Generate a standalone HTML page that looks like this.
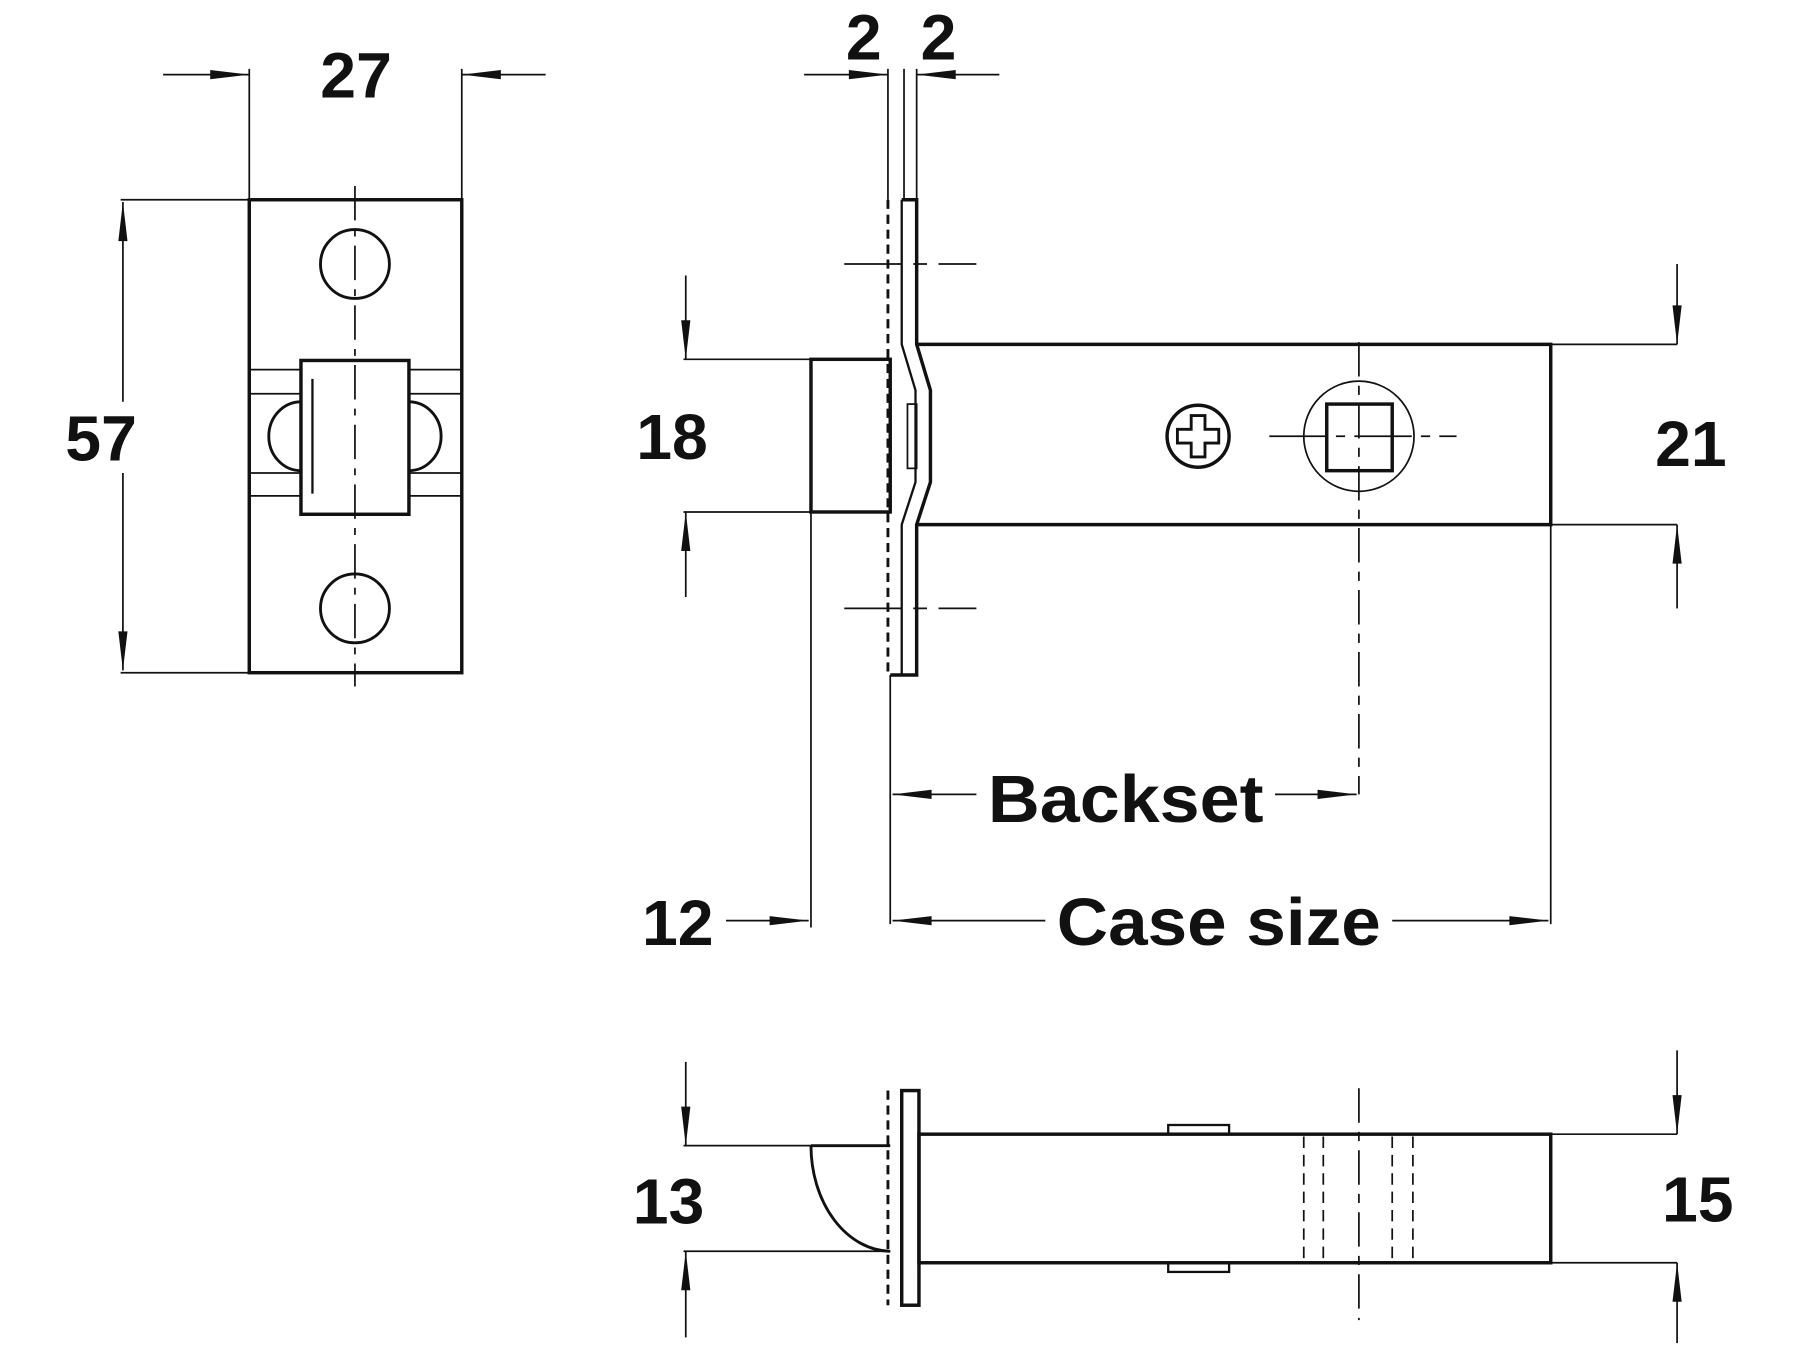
<!DOCTYPE html>
<html><head><style>html,body{margin:0;padding:0;background:#fff}svg{display:block}</style></head><body>
<svg width="1800" height="1350" viewBox="0 0 1567 1176" preserveAspectRatio="none" xmlns="http://www.w3.org/2000/svg">
<defs>
<marker id="b" viewBox="0 0 40 12" refX="40" refY="6" markerWidth="40" markerHeight="12" markerUnits="userSpaceOnUse" orient="auto-start-reverse"><path d="M6,2 L40,6 L6,10 Z" fill="#111"/></marker></defs>
<g fill="none" stroke="#111" stroke-width="1.5">
<rect x="217" y="174" width="185" height="412" stroke-width="3"/>
<circle cx="309" cy="230" r="30" stroke-width="2.5"/><circle cx="309" cy="530" r="30" stroke-width="2.5"/>
<line x1="309" y1="162" x2="309" y2="598" stroke-dasharray="30,8,6,8"/>
<line x1="217" y1="322" x2="262" y2="322"/><line x1="217" y1="343" x2="262" y2="343"/><line x1="356" y1="322" x2="402" y2="322"/><line x1="356" y1="343" x2="402" y2="343"/>
<line x1="217" y1="412" x2="262" y2="412"/><line x1="217" y1="432" x2="262" y2="432"/><line x1="356" y1="412" x2="402" y2="412"/><line x1="356" y1="432" x2="402" y2="432"/>
<path d="M262,350 A28,30 0 0 0 262,410" stroke-width="2.5"/><path d="M356,350 A28,30 0 0 1 356,410" stroke-width="2.5"/>
<rect x="262" y="314" width="94" height="134" stroke-width="3"/><line x1="272" y1="330" x2="272" y2="430" stroke-width="2"/>
<line x1="217" y1="60" x2="217" y2="174"/><line x1="402" y1="60" x2="402" y2="174"/>
<line x1="142" y1="65" x2="217" y2="65" marker-end="url(#b)"/><line x1="475" y1="65" x2="402" y2="65" marker-end="url(#b)"/>
<line x1="105" y1="174" x2="217" y2="174"/><line x1="105" y1="586" x2="217" y2="586"/>
<line x1="107" y1="350" x2="107" y2="176" marker-end="url(#b)"/><line x1="107" y1="412" x2="107" y2="584" marker-end="url(#b)"/>
<path d="M785,174 L798,174 L798,300 L810,340 L810,420 L798,457 L798,588 L775,588" stroke-width="3"/>
<path d="M785,174 L785,300 L797,340 L797,420 L785,457 L785,588" stroke-width="2"/>
<line x1="773" y1="174" x2="773" y2="588" stroke-dasharray="8,5" stroke-width="2.5"/>
<rect x="790" y="352" width="8" height="56"/>
<path d="M798,300 L1350,300 L1350,457 L798,457" stroke-width="3"/>
<rect x="706" y="313" width="69" height="133" stroke-width="3"/>
<line x1="735" y1="230" x2="850" y2="230" stroke-dasharray="50,10,12,10"/><line x1="735" y1="530" x2="850" y2="530" stroke-dasharray="50,10,12,10"/>
<circle cx="1043" cy="380" r="27" stroke-width="3"/>
<path d="M1037,362 h12 v12 h12 v12 h-12 v12 h-12 v-12 h-12 v-12 h12 z" stroke-width="2.5"/>
<circle cx="1183" cy="380" r="48"/>
<rect x="1155" y="352" width="57" height="58" stroke-width="3"/>
<line x1="1105" y1="380" x2="1268" y2="380" stroke-dasharray="50,8,8,8"/>
<line x1="1183" y1="298" x2="1183" y2="692" stroke-dasharray="30,8,8,8"/>
<line x1="595" y1="313" x2="706" y2="313"/><line x1="595" y1="446" x2="706" y2="446"/>
<line x1="597" y1="240" x2="597" y2="313" marker-end="url(#b)"/><line x1="597" y1="520" x2="597" y2="446" marker-end="url(#b)"/>
<line x1="1350" y1="300" x2="1460" y2="300"/><line x1="1350" y1="457" x2="1460" y2="457"/>
<line x1="1460" y1="230" x2="1460" y2="300" marker-end="url(#b)"/><line x1="1460" y1="530" x2="1460" y2="457" marker-end="url(#b)"/>
<line x1="773" y1="60" x2="773" y2="174"/><line x1="787" y1="60" x2="787" y2="174"/><line x1="798" y1="60" x2="798" y2="174"/>
<line x1="700" y1="65" x2="773" y2="65" marker-end="url(#b)"/><line x1="870" y1="65" x2="798" y2="65" marker-end="url(#b)"/>
<line x1="850" y1="692" x2="777" y2="692" marker-end="url(#b)"/><line x1="1110" y1="692" x2="1181" y2="692" marker-end="url(#b)"/>
<line x1="775" y1="588" x2="775" y2="805"/><line x1="1350" y1="457" x2="1350" y2="805"/><line x1="706" y1="446" x2="706" y2="808"/>
<line x1="910" y1="802" x2="777" y2="802" marker-end="url(#b)"/><line x1="1212" y1="802" x2="1348" y2="802" marker-end="url(#b)"/>
<line x1="632" y1="802" x2="704" y2="802" marker-end="url(#b)"/>
<rect x="785" y="950" width="15" height="187" stroke-width="3"/>
<line x1="773" y1="950" x2="773" y2="1137" stroke-dasharray="8,5" stroke-width="2.5"/>
<rect x="800" y="988" width="550" height="112" stroke-width="3"/>
<path d="M706,998 L775,998 M706,998 A70,92 0 0 0 775,1090" stroke-width="2.5"/>
<rect x="1017" y="980" width="53" height="8" stroke-width="2"/><rect x="1017" y="1100" width="53" height="8" stroke-width="2"/>
<g stroke-dasharray="10,6"><line x1="1135" y1="990" x2="1135" y2="1100"/><line x1="1152" y1="990" x2="1152" y2="1100"/><line x1="1212" y1="990" x2="1212" y2="1100"/><line x1="1230" y1="990" x2="1230" y2="1100"/></g>
<line x1="1183" y1="948" x2="1183" y2="1150" stroke-dasharray="30,8,8,8"/>
<line x1="595" y1="998" x2="706" y2="998"/><line x1="595" y1="1090" x2="775" y2="1090"/>
<line x1="597" y1="925" x2="597" y2="998" marker-end="url(#b)"/><line x1="597" y1="1165" x2="597" y2="1090" marker-end="url(#b)"/>
<line x1="1350" y1="988" x2="1460" y2="988"/><line x1="1350" y1="1100" x2="1460" y2="1100"/>
<line x1="1460" y1="915" x2="1460" y2="988" marker-end="url(#b)"/><line x1="1460" y1="1170" x2="1460" y2="1100" marker-end="url(#b)"/>
</g>
<g font-family="Liberation Sans, sans-serif" font-weight="bold" font-size="56" fill="#111" text-anchor="middle">
<text x="310" y="85">27</text><text x="88" y="401">57</text>
<text x="752" y="52">2</text><text x="817" y="52">2</text>
<text x="585" y="400">18</text><text x="1472" y="406">21</text>
<text x="980" y="716" font-size="58" textLength="240" lengthAdjust="spacingAndGlyphs">Backset</text>
<text x="1061" y="823" font-size="58" textLength="282" lengthAdjust="spacingAndGlyphs">Case size</text>
<text x="590" y="823">12</text><text x="582" y="1066">13</text><text x="1478" y="1064">15</text>
</g>
</svg>
</body></html>
